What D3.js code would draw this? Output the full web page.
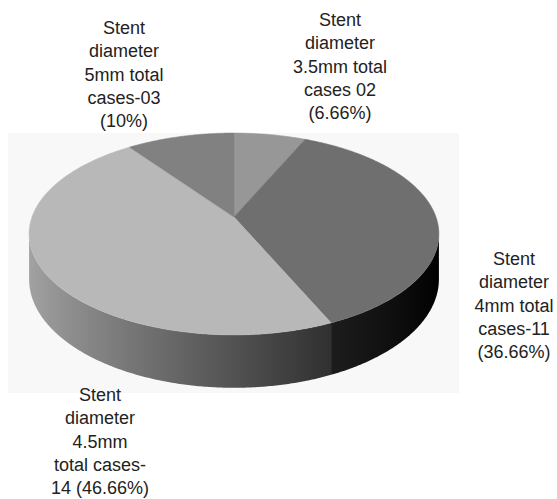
<!DOCTYPE html>
<html>
<head>
<meta charset="utf-8">
<script src="https://cdn.jsdelivr.net/npm/d3@7"></script>
<style>
  html, body { margin: 0; padding: 0; background: #ffffff; }
  svg { display: block; }
  text { font-family: "Liberation Sans", Arial, sans-serif; font-size: 18px; fill: #222222; }
</style>
</head>
<body>
<svg id="chart" width="557" height="499"></svg>
<script>
// Stent diameter groups and the number of cases in each
const categories = ["3.5mm", "4mm", "4.5mm", "5mm"];
const cases = [2, 11, 14, 3];
const topColors = ["#979797", "#6f6f6f", "#b8b8b8", "#818181"];
const labelLines = [
  ["Stent", "diameter", "3.5mm total", "cases 02", "(6.66%)"],
  ["Stent", "diameter", "4mm total", "cases-11", "(36.66%)"],
  ["Stent", "diameter", "4.5mm", "total cases-", "14 (46.66%)"],
  ["Stent", "diameter", "5mm total", "cases-03", "(10%)"]
];

const svg = d3.select("#chart");
const defs = svg.append("defs");

// plot area panel
svg.append("rect")
  .attr("x", 8).attr("y", 133).attr("width", 451).attr("height", 260)
  .attr("fill", "#f8f8f8");

// perspective projection of the disc
const cx = 234, cy = 217, A = 202, B = 98.1, k = 0.168, D = 44;
function project(theta, h) {
  const u = Math.sin(theta), v = Math.cos(theta);
  const w = 1 / (1 + k * v);
  return [cx + A * u * w, cy - B * v * w + h * D * w];
}

const pie = d3.pie().sort(null).value(d => d).startAngle(0).endAngle(2 * Math.PI);
const arcs = pie(cases);

// lighting factor for the rim (light coming from the left)
function shade(theta) {
  const f = 0.445 + 0.455 * Math.cos(theta - 1.5 * Math.PI);
  return Math.max(0, Math.min(1, f));
}

const line = d3.line();
const step = Math.PI / 360;
// visible part of the rim lies between the two silhouette angles
const visLo = Math.acos(-k), visHi = 2 * Math.PI - Math.acos(-k);

const rim = svg.append("g");
arcs.forEach((a, i) => {
  const t0 = Math.max(a.startAngle, visLo), t1 = Math.min(a.endAngle, visHi);
  if (t1 <= t0) return;
  const n = Math.max(2, Math.ceil((t1 - t0) / step));
  const ts = d3.range(n + 1).map(j => t0 + (t1 - t0) * j / n);
  const topPts = ts.map(t => project(t, 0));
  const botPts = ts.map(t => project(t, 1)).reverse();
  const base = d3.color(topColors[i]);
  const xa = topPts[0][0], xb = topPts[n][0];
  const grad = defs.append("linearGradient")
    .attr("id", "rim" + i)
    .attr("gradientUnits", "userSpaceOnUse")
    .attr("x1", xa).attr("y1", 0).attr("x2", xb).attr("y2", 0);
  grad.selectAll("stop").data(ts.filter((t, j) => j % 4 === 0 || j === n)).join("stop")
    .attr("offset", t => Math.max(0, Math.min(1, (project(t, 0)[0] - xa) / (xb - xa))))
    .attr("stop-color", t => {
      const f = shade(t);
      return d3.rgb(base.r * f, base.g * f, base.b * f).formatHex();
    });
  rim.append("path")
    .attr("d", line(topPts.concat(botPts)) + "Z")
    .attr("fill", "url(#rim" + i + ")");
});

// top faces
svg.append("g").selectAll("path").data(arcs).join("path")
  .attr("d", a => {
    const pts = [[cx, cy]];
    const n = Math.max(2, Math.ceil((a.endAngle - a.startAngle) / step));
    for (let j = 0; j <= n; j++) {
      pts.push(project(a.startAngle + (a.endAngle - a.startAngle) * j / n, 0));
    }
    return line(pts) + "Z";
  })
  .attr("fill", (a, i) => topColors[i])
  .attr("stroke", (a, i) => topColors[i])
  .attr("stroke-width", 0.5);

// label layout: centre x and first baseline
const labelAnchors = [
  { x: 340, y: 26 },
  { x: 514, y: 265 },
  { x: 100, y: 401 },
  { x: 124, y: 34 }
];
const lineGap = 23.3;
const labels = svg.append("g").selectAll("text").data(labelLines).join("text")
  .attr("text-anchor", "middle")
  .attr("x", (d, i) => labelAnchors[i].x)
  .attr("y", (d, i) => labelAnchors[i].y);
labels.selectAll("tspan").data(d => d).join("tspan")
  .attr("x", function () { return this.parentNode.getAttribute("x"); })
  .attr("dy", (d, j) => j === 0 ? 0 : lineGap)
  .text(d => d);
</script>
</body>
</html>
